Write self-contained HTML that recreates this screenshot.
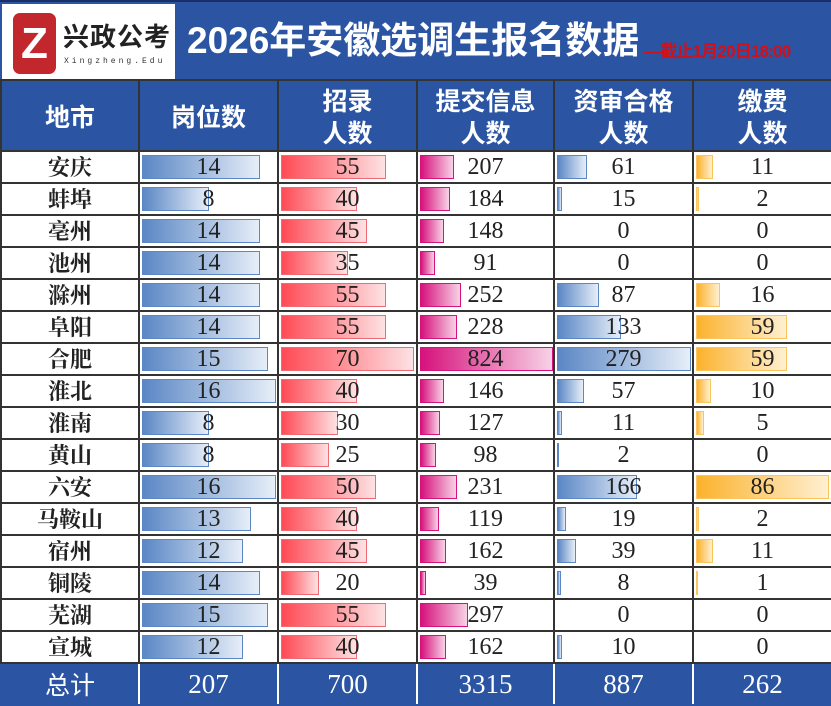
<!DOCTYPE html>
<html><head><meta charset="utf-8"><style>
*{margin:0;padding:0;box-sizing:border-box}
body{width:831px;height:703px;background:#fff;overflow:hidden;position:relative;font-family:"Liberation Serif","Noto Serif CJK SC",serif}
#top{position:absolute;left:0;top:0;width:831px;height:79px;background:#2b55a3;border-top:2px solid #1a2f66}
#logo{position:absolute;left:2px;top:2px;width:173px;height:75px;background:#fff}
#lb{position:absolute;left:11px;top:9px;width:43px;height:61px;background:#c1272d;border-radius:7px;color:#fff;font:bold 44px "Liberation Sans",sans-serif;text-align:center;line-height:61px}
#ln{position:absolute;left:61px;top:17px;font:bold 26px "Noto Sans CJK SC",sans-serif;color:#222;letter-spacing:1px;line-height:30px}
#le{position:absolute;left:62px;top:53px;font:8px "Liberation Mono",monospace;color:#333;letter-spacing:3px}
#title{position:absolute;left:187px;top:16px;color:#fff;font:bold 37px "Liberation Sans","Noto Sans CJK SC",sans-serif;line-height:46px;white-space:nowrap}
#sub{position:absolute;left:644px;top:35px;color:#d0101a;font:bold 17px "Liberation Sans","Noto Sans CJK SC",sans-serif;white-space:nowrap;letter-spacing:-0.8px}
table{position:absolute;left:0;top:79px;border-collapse:collapse;table-layout:fixed;width:831px}
td,th{border:2px solid #333;text-align:center;position:relative;padding:0}
th{background:#2b55a3;color:#fff;font:bold 25px "Noto Sans CJK SC",sans-serif;height:71px;line-height:32px}
td{height:32px;font-size:24px;line-height:30px;color:#222}
td.c{font-family:"Noto Serif CJK SC",serif;font-weight:bold;font-size:22px}
.b{position:absolute;left:2px;top:3px;bottom:3px;border:1px solid}
.v{position:relative}
.b1{background:linear-gradient(90deg,#5b87c5,#e6eef8);border-color:#5b87c5}
.b2{background:linear-gradient(90deg,#ff4a55,#fde2e4);border-color:#f06a74}
.b3{background:linear-gradient(90deg,#d6127c,#f8d2e6);border-color:#d6127c}
.b4{background:linear-gradient(90deg,#5b87c5,#e6eef8);border-color:#5b87c5}
.b5{background:linear-gradient(90deg,#fbb22c,#fff0d2);border-color:#fbc45c}
tr.t td{background:#2b55a3;color:#fff;height:42px;font-size:27px;border-color:#2b55a3;border-right-color:#fff}
tr.t td:last-child{border-right-color:#2b55a3}
tr.t td.c{font-family:"Noto Sans CJK SC",sans-serif;font-weight:normal;font-size:25px}
</style></head><body>
<div id="top">
<div id="logo"><div id="lb">Z</div><div id="ln">兴政公考</div><div id="le">Xingzheng.Edu</div></div>
<div id="title">2026年安徽选调生报名数据</div>
<div id="sub">—截止1月20日18:00</div>
</div>
<table>
<colgroup><col style="width:138px"><col style="width:139px"><col style="width:139px"><col style="width:137px"><col style="width:139px"><col style="width:139px"></colgroup>
<tr><th>地市</th><th>岗位数</th><th>招录<br>人数</th><th>提交信息<br>人数</th><th>资审合格<br>人数</th><th>缴费<br>人数</th></tr>
<tr><td class="c">安庆</td><td><div class="b b1" style="width:118px"></div><span class="v">14</span></td><td><div class="b b2" style="width:105px"></div><span class="v">55</span></td><td><div class="b b3" style="width:34px"></div><span class="v">207</span></td><td><div class="b b4" style="width:30px"></div><span class="v">61</span></td><td><div class="b b5" style="width:17px"></div><span class="v">11</span></td></tr>
<tr><td class="c">蚌埠</td><td><div class="b b1" style="width:67px"></div><span class="v">8</span></td><td><div class="b b2" style="width:76px"></div><span class="v">40</span></td><td><div class="b b3" style="width:30px"></div><span class="v">184</span></td><td><div class="b b4" style="width:5px"></div><span class="v">15</span></td><td><div class="b b5" style="width:3px"></div><span class="v">2</span></td></tr>
<tr><td class="c">亳州</td><td><div class="b b1" style="width:118px"></div><span class="v">14</span></td><td><div class="b b2" style="width:86px"></div><span class="v">45</span></td><td><div class="b b3" style="width:24px"></div><span class="v">148</span></td><td><span class="v">0</span></td><td><span class="v">0</span></td></tr>
<tr><td class="c">池州</td><td><div class="b b1" style="width:118px"></div><span class="v">14</span></td><td><div class="b b2" style="width:67px"></div><span class="v">35</span></td><td><div class="b b3" style="width:15px"></div><span class="v">91</span></td><td><span class="v">0</span></td><td><span class="v">0</span></td></tr>
<tr><td class="c">滁州</td><td><div class="b b1" style="width:118px"></div><span class="v">14</span></td><td><div class="b b2" style="width:105px"></div><span class="v">55</span></td><td><div class="b b3" style="width:41px"></div><span class="v">252</span></td><td><div class="b b4" style="width:42px"></div><span class="v">87</span></td><td><div class="b b5" style="width:24px"></div><span class="v">16</span></td></tr>
<tr><td class="c">阜阳</td><td><div class="b b1" style="width:118px"></div><span class="v">14</span></td><td><div class="b b2" style="width:105px"></div><span class="v">55</span></td><td><div class="b b3" style="width:37px"></div><span class="v">228</span></td><td><div class="b b4" style="width:64px"></div><span class="v">133</span></td><td><div class="b b5" style="width:91px"></div><span class="v">59</span></td></tr>
<tr><td class="c">合肥</td><td><div class="b b1" style="width:126px"></div><span class="v">15</span></td><td><div class="b b2" style="width:133px"></div><span class="v">70</span></td><td><div class="b b3" style="width:133px"></div><span class="v">824</span></td><td><div class="b b4" style="width:134px"></div><span class="v">279</span></td><td><div class="b b5" style="width:91px"></div><span class="v">59</span></td></tr>
<tr><td class="c">淮北</td><td><div class="b b1" style="width:134px"></div><span class="v">16</span></td><td><div class="b b2" style="width:76px"></div><span class="v">40</span></td><td><div class="b b3" style="width:24px"></div><span class="v">146</span></td><td><div class="b b4" style="width:27px"></div><span class="v">57</span></td><td><div class="b b5" style="width:15px"></div><span class="v">10</span></td></tr>
<tr><td class="c">淮南</td><td><div class="b b1" style="width:67px"></div><span class="v">8</span></td><td><div class="b b2" style="width:57px"></div><span class="v">30</span></td><td><div class="b b3" style="width:20px"></div><span class="v">127</span></td><td><div class="b b4" style="width:5px"></div><span class="v">11</span></td><td><div class="b b5" style="width:8px"></div><span class="v">5</span></td></tr>
<tr><td class="c">黄山</td><td><div class="b b1" style="width:67px"></div><span class="v">8</span></td><td><div class="b b2" style="width:48px"></div><span class="v">25</span></td><td><div class="b b3" style="width:16px"></div><span class="v">98</span></td><td><div class="b b4" style="width:1px"></div><span class="v">2</span></td><td><span class="v">0</span></td></tr>
<tr><td class="c">六安</td><td><div class="b b1" style="width:134px"></div><span class="v">16</span></td><td><div class="b b2" style="width:95px"></div><span class="v">50</span></td><td><div class="b b3" style="width:37px"></div><span class="v">231</span></td><td><div class="b b4" style="width:80px"></div><span class="v">166</span></td><td><div class="b b5" style="width:133px"></div><span class="v">86</span></td></tr>
<tr><td class="c">马鞍山</td><td><div class="b b1" style="width:109px"></div><span class="v">13</span></td><td><div class="b b2" style="width:76px"></div><span class="v">40</span></td><td><div class="b b3" style="width:19px"></div><span class="v">119</span></td><td><div class="b b4" style="width:9px"></div><span class="v">19</span></td><td><div class="b b5" style="width:3px"></div><span class="v">2</span></td></tr>
<tr><td class="c">宿州</td><td><div class="b b1" style="width:101px"></div><span class="v">12</span></td><td><div class="b b2" style="width:86px"></div><span class="v">45</span></td><td><div class="b b3" style="width:26px"></div><span class="v">162</span></td><td><div class="b b4" style="width:19px"></div><span class="v">39</span></td><td><div class="b b5" style="width:17px"></div><span class="v">11</span></td></tr>
<tr><td class="c">铜陵</td><td><div class="b b1" style="width:118px"></div><span class="v">14</span></td><td><div class="b b2" style="width:38px"></div><span class="v">20</span></td><td><div class="b b3" style="width:6px"></div><span class="v">39</span></td><td><div class="b b4" style="width:4px"></div><span class="v">8</span></td><td><div class="b b5" style="width:2px"></div><span class="v">1</span></td></tr>
<tr><td class="c">芜湖</td><td><div class="b b1" style="width:126px"></div><span class="v">15</span></td><td><div class="b b2" style="width:105px"></div><span class="v">55</span></td><td><div class="b b3" style="width:48px"></div><span class="v">297</span></td><td><span class="v">0</span></td><td><span class="v">0</span></td></tr>
<tr><td class="c">宣城</td><td><div class="b b1" style="width:101px"></div><span class="v">12</span></td><td><div class="b b2" style="width:76px"></div><span class="v">40</span></td><td><div class="b b3" style="width:26px"></div><span class="v">162</span></td><td><div class="b b4" style="width:5px"></div><span class="v">10</span></td><td><span class="v">0</span></td></tr>
<tr class="t"><td class="c">总计</td><td>207</td><td>700</td><td>3315</td><td>887</td><td>262</td></tr>
</table>
</body></html>
